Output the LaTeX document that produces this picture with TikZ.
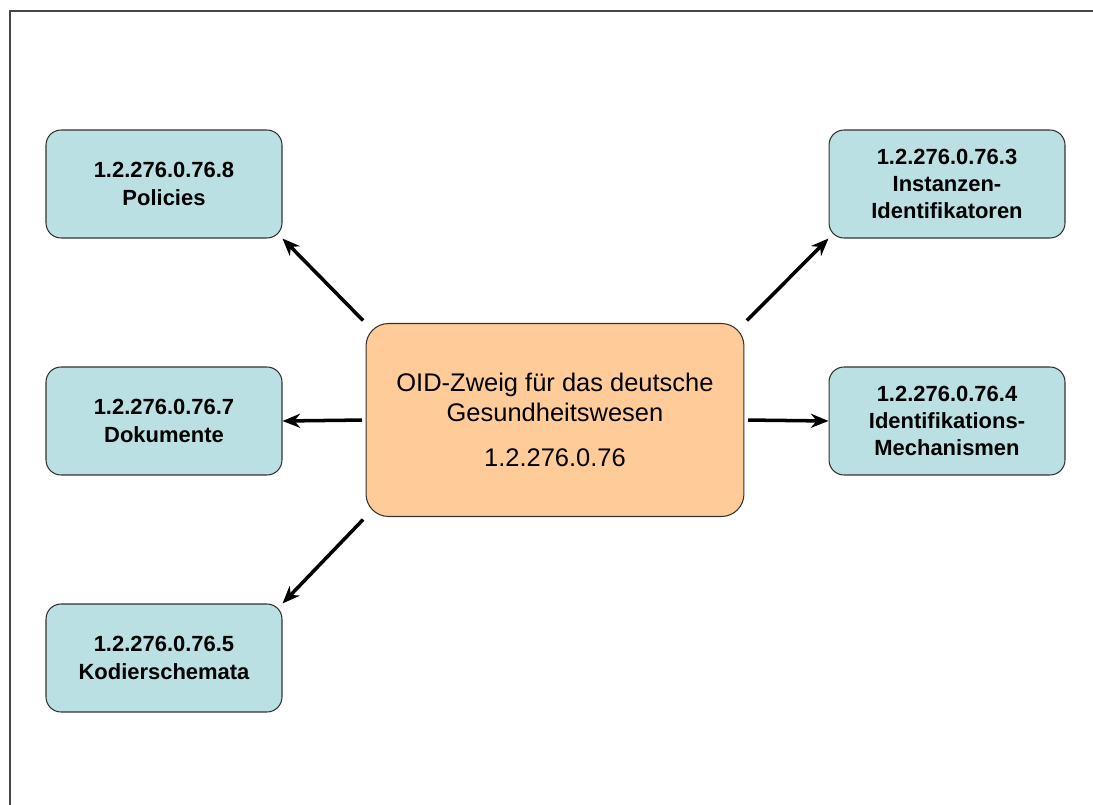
\documentclass[tikz,border=0pt]{standalone}
\usepackage{fontspec}
\setmainfont{Liberation Sans}
\usepackage{tikz}
\usetikzlibrary{arrows.meta}

\definecolor{oidblue}{RGB}{186,224,227}
\definecolor{oidorange}{RGB}{255,204,153}
\definecolor{framegray}{RGB}{70,70,70}

\begin{document}
\begin{tikzpicture}[x=0.02cm,y=-0.02cm,
    branch/.style={draw=black!80,fill=oidblue,rounded corners=0.3cm,line width=0.6pt,minimum width=4.72cm,minimum height=2.16cm,align=center,font=\bfseries\fontsize{12.5}{15.5}\selectfont},
    root/.style={draw=black!80,fill=oidorange,rounded corners=0.45cm,line width=0.6pt,minimum width=7.56cm,minimum height=3.86cm,align=center,font=\fontsize{14.5}{17}\selectfont},
    link/.style={-{Stealth[length=10pt,width=8pt]},line width=2pt,shorten <=2pt}]
    \useasboundingbox (0,0) rectangle (1093,805);
    \draw[framegray,line width=1.2pt] (1093,11) -- (10,11) -- (10,805);

    \node[root] (oid) at (555,420) {OID-Zweig für das deutsche\\Gesundheitswesen\\[9pt]1.2.276.0.76};

    \node[branch] (pol) at (164,184) {1.2.276.0.76.8\\Policies};
    \node[branch] (dok) at (164,421) {1.2.276.0.76.7\\Dokumente};
    \node[branch] (kod) at (164,658) {1.2.276.0.76.5\\Kodierschemata};
    \node[branch] (ins) at (947,184) {1.2.276.0.76.3\\Instanzen-\\Identifikatoren};
    \node[branch] (idm) at (947,421) {1.2.276.0.76.4\\Identifikations-\\Mechanismen};

    \draw[link] (oid.north west) -- (pol.south east);
    \draw[link] (oid.west) -- (dok.east);
    \draw[link] (oid.south west) -- (kod.north east);
    \draw[link] (oid.north east) -- (ins.south west);
    \draw[link] (oid.east) -- (idm.west);
\end{tikzpicture}
\end{document}
